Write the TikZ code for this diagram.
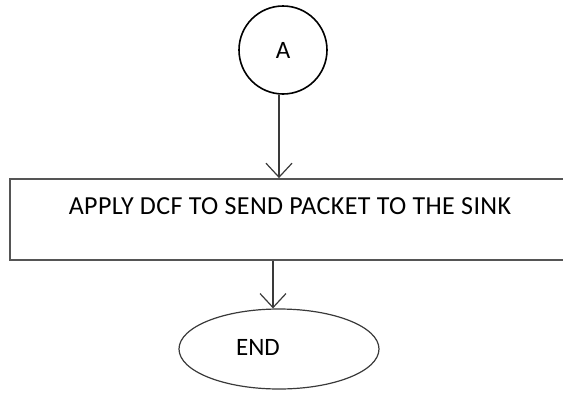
\documentclass[tikz,border=0pt]{standalone}
\usepackage{fontspec}
\setmainfont{Carlito}
\newfontfamily\flowfont[LetterSpace=1.5]{Carlito}
\usepackage{tikz}
\usetikzlibrary{positioning, shapes.geometric, arrows.meta}
\definecolor{fcLine}{HTML}{3A3A3A}
\definecolor{fcBox}{HTML}{555555}
\tikzset{
  connector/.style={
    circle, draw=black, line width=1.6pt,
    minimum size=88pt, inner sep=0pt,
    font=\fontsize{25}{30}\selectfont
  },
  procbox/.style={
    rectangle, draw=fcBox, line width=1.8pt,
    minimum width=560pt, minimum height=81pt,
    text height=15pt, text depth=26pt,
    font=\flowfont\fontsize{26}{30}\selectfont
  },
  terminal/.style={
    ellipse, draw=fcLine, line width=1.2pt,
    minimum width=200pt, minimum height=80pt
  },
  label/.style={font=\fontsize{25}{30}\selectfont},
  flowarrow/.style={
    -{Straight Barb[length=14pt, width=26pt, line width=1.2pt]},
    fcLine, line width=1.2pt
  }
}
\begin{document}
\begin{tikzpicture}[x=1pt, y=-1pt]
  \useasboundingbox (0,0) rectangle (563,392);
  \clip (0,0) rectangle (563,392);
  \node[connector] (a) at (283,50) {A};
  \node[procbox] (apply) at (290,219.5) {APPLY DCF TO SEND PACKET TO THE SINK};
  \node[terminal] (end) at (279,349) {};
  \node[label] (endtext) at (258,347) {END};
  \draw[flowarrow] (a.south -| 279,0) -- (279,0 |- apply.north);
  \draw[flowarrow] (273,0 |- apply.south) -- (273,0 |- end.north);
\end{tikzpicture}
\end{document}
